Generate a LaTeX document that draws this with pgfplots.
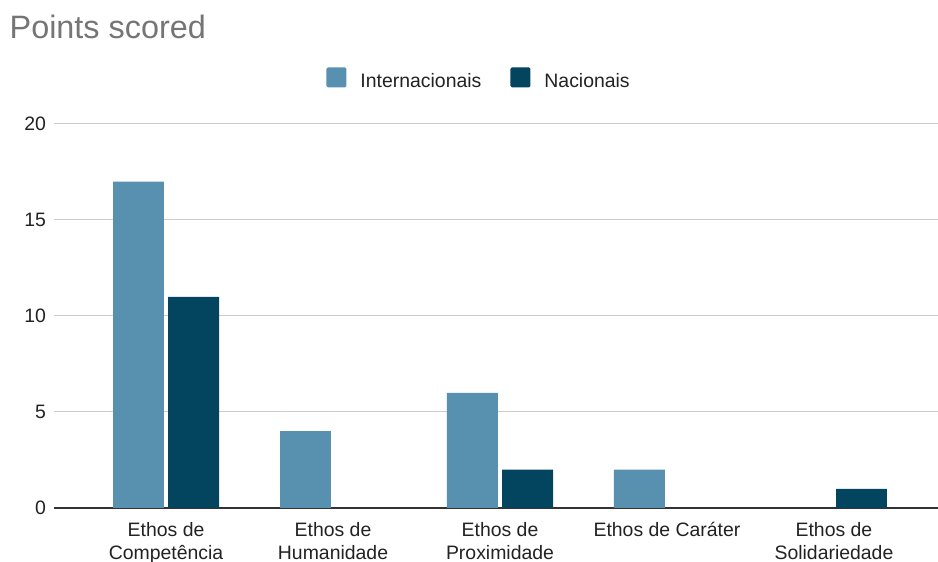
\documentclass[border=0pt]{standalone}
\usepackage{pgfplots}
\pgfplotsset{compat=1.18}
\usepackage{fontspec}
\setmainfont{Liberation Sans}
\definecolor{intc}{HTML}{5891B0}
\definecolor{nacc}{HTML}{03445F}
\definecolor{titlec}{HTML}{757575}
\definecolor{textc}{HTML}{222222}
\definecolor{gridc}{HTML}{CCCCCC}
\definecolor{axisc}{HTML}{333333}
\pgfplotsset{
  sqlegend/.style={legend image code/.code={\fill[##1,rounded corners=1.5bp] (0bp,-6.5bp) rectangle (20bp,13.5bp);}},
}
\begin{document}
\begin{tikzpicture}
\useasboundingbox (0,0) rectangle (938bp,562bp);
\node[anchor=base west, inner sep=0pt, text=titlec, font=\fontsize{32.5}{38}\selectfont] at (9.5bp,523bp) {Points scored};
\begin{axis}[
  at={(54bp,54bp)}, anchor=south west,
  scale only axis, width=884bp, height=384bp,
  xmin=-0.671, xmax=4.623, ymin=0, ymax=20,
  ybar,
  ytick={0,5,10,15,20},
  xtick={0,1,2,3,4},
  xticklabels={{Ethos de\\Competência},{Ethos de\\Humanidade},{Ethos de\\Proximidade},{Ethos de Caráter},{Ethos de\\Solidariedade}},
  xticklabel style={align=center, text=textc, font=\fontsize{19.5}{23}\selectfont, yshift=-11bp},
  yticklabel style={text=textc, font=\fontsize{19.5}{23}\selectfont, xshift=-4.5bp},
  /pgf/number format/assume math mode=true,
  major tick length=0pt,
  axis x line=bottom, axis y line=left,
  x axis line style={-, draw=axisc, line width=1.5bp},
  y axis line style={draw=none},
  ymajorgrids, grid style={draw=gridc, line width=1bp},
  legend columns=2,
  legend style={at={(axis description cs:0.308,1.117)}, anchor=west, draw=none, fill=none, inner sep=0pt,
    font=\fontsize{19.5}{23}\selectfont, text=textc,
    nodes={inner xsep=0pt},
    /tikz/every odd column/.append style={column sep=14bp},
    /tikz/every even column/.append style={column sep=29bp}},
]
\addplot[fill=intc, draw=none, bar width=0.305, bar shift=-0.165, sqlegend] coordinates {(0,17) (1,4) (2,6) (3,2)};
\addlegendentry{Internacionais}
\addplot[fill=nacc, draw=none, bar width=0.305, bar shift=0.165, sqlegend] coordinates {(0,11) (2,2) (4,1)};
\addlegendentry{Nacionais}
\end{axis}
\end{tikzpicture}
\end{document}
